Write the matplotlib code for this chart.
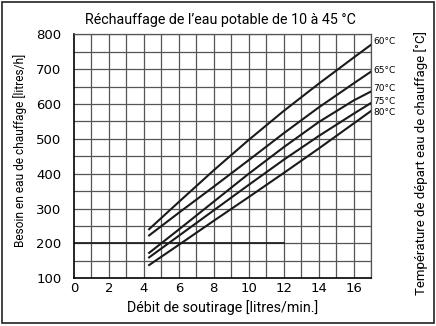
import matplotlib
matplotlib.use('Agg')
import matplotlib.pyplot as plt
from matplotlib.patches import Rectangle
import numpy as np

# débit de soutirage [l/min] et besoin en eau de chauffage [l/h]
debit = [4.3, 6, 8, 10, 12, 14, 16, 17]
besoin_60 = [241, 319, 410, 497, 580, 658, 733, 770]
besoin_65 = [223, 288, 363, 439, 516, 590, 659, 693]
besoin_70 = [173, 240, 320, 400, 476, 548, 610, 636]
besoin_75 = [160, 222, 295, 368, 440, 508, 572, 603]
besoin_80 = [138, 196, 265, 333, 402, 472, 544, 580]
courbes = [besoin_60, besoin_65, besoin_70, besoin_75, besoin_80]
etiquettes = ['60°C', '65°C', '70°C', '75°C', '80°C']
decalage = [8, 3, 8, 5, -3]

x_ticks = [0, 2, 4, 6, 8, 10, 12, 14, 16]
y_ticks = [100, 200, 300, 400, 500, 600, 700, 800]

plt.rcParams['font.family'] = ['Roboto', 'DejaVu Sans']

fig = plt.figure(figsize=(4.36, 3.26), dpi=100)
ax = fig.add_axes([0.1697, 0.1463, 0.6813, 0.7485])
ax.set_xlim(0, 17)
ax.set_ylim(100, 800)

# quadrillage
for xv in np.arange(1, 18, 1):
    ax.axvline(xv, color='#555555', lw=0.9, zorder=1)
for yv in np.arange(150, 801, 50):
    ax.axhline(yv, color='#555555', lw=0.9, zorder=1)
ax.plot([0, 12], [200, 200], color='#222222', lw=1.3, zorder=2)

for c in courbes:
    ax.plot(debit, c, color='#1a1a1a', lw=1.5, zorder=3)
for c, lab, d in zip(courbes, etiquettes, decalage):
    ax.text(17.15, c[-1] + d, lab, fontsize=6.5, va='center', ha='left',
            family=['DejaVu Sans'], clip_on=False)

ax.set_xticks(x_ticks)
ax.set_yticks(y_ticks)
ax.tick_params(length=0, labelsize=9.5)
ax.tick_params(axis='y', pad=9)
ax.tick_params(axis='x', pad=3)
for lab in ax.get_xticklabels() + ax.get_yticklabels():
    lab.set_family(['DejaVu Sans'])
for s in ['left', 'bottom']:
    ax.spines[s].set_linewidth(1.2)
for s in ['top', 'right']:
    ax.spines[s].set_linewidth(0.9)
    ax.spines[s].set_color('#555555')

ax.set_xlabel('Débit de soutirage [litres/min.]', fontsize=10.3, labelpad=3)
fig.text(0.046, 0.54, 'Besoin en eau de chauffage [litres/h]',
         rotation=90, ha='center', va='center', fontsize=8.6)
fig.text(0.505, 0.939, 'Réchauffage de l\u2019eau potable de 10 à 45 °C',
         ha='center', va='center', fontsize=10.3)
fig.text(0.966, 0.5, 'Température de départ eau de chauffage [°C]',
         rotation=90, ha='center', va='center', fontsize=9.5)

fig.patches.append(Rectangle((0.005, 0.008), 0.99, 0.985, transform=fig.transFigure,
                             fill=False, edgecolor='#222222', lw=1.2))

fig.savefig('out.png', dpi=100)
